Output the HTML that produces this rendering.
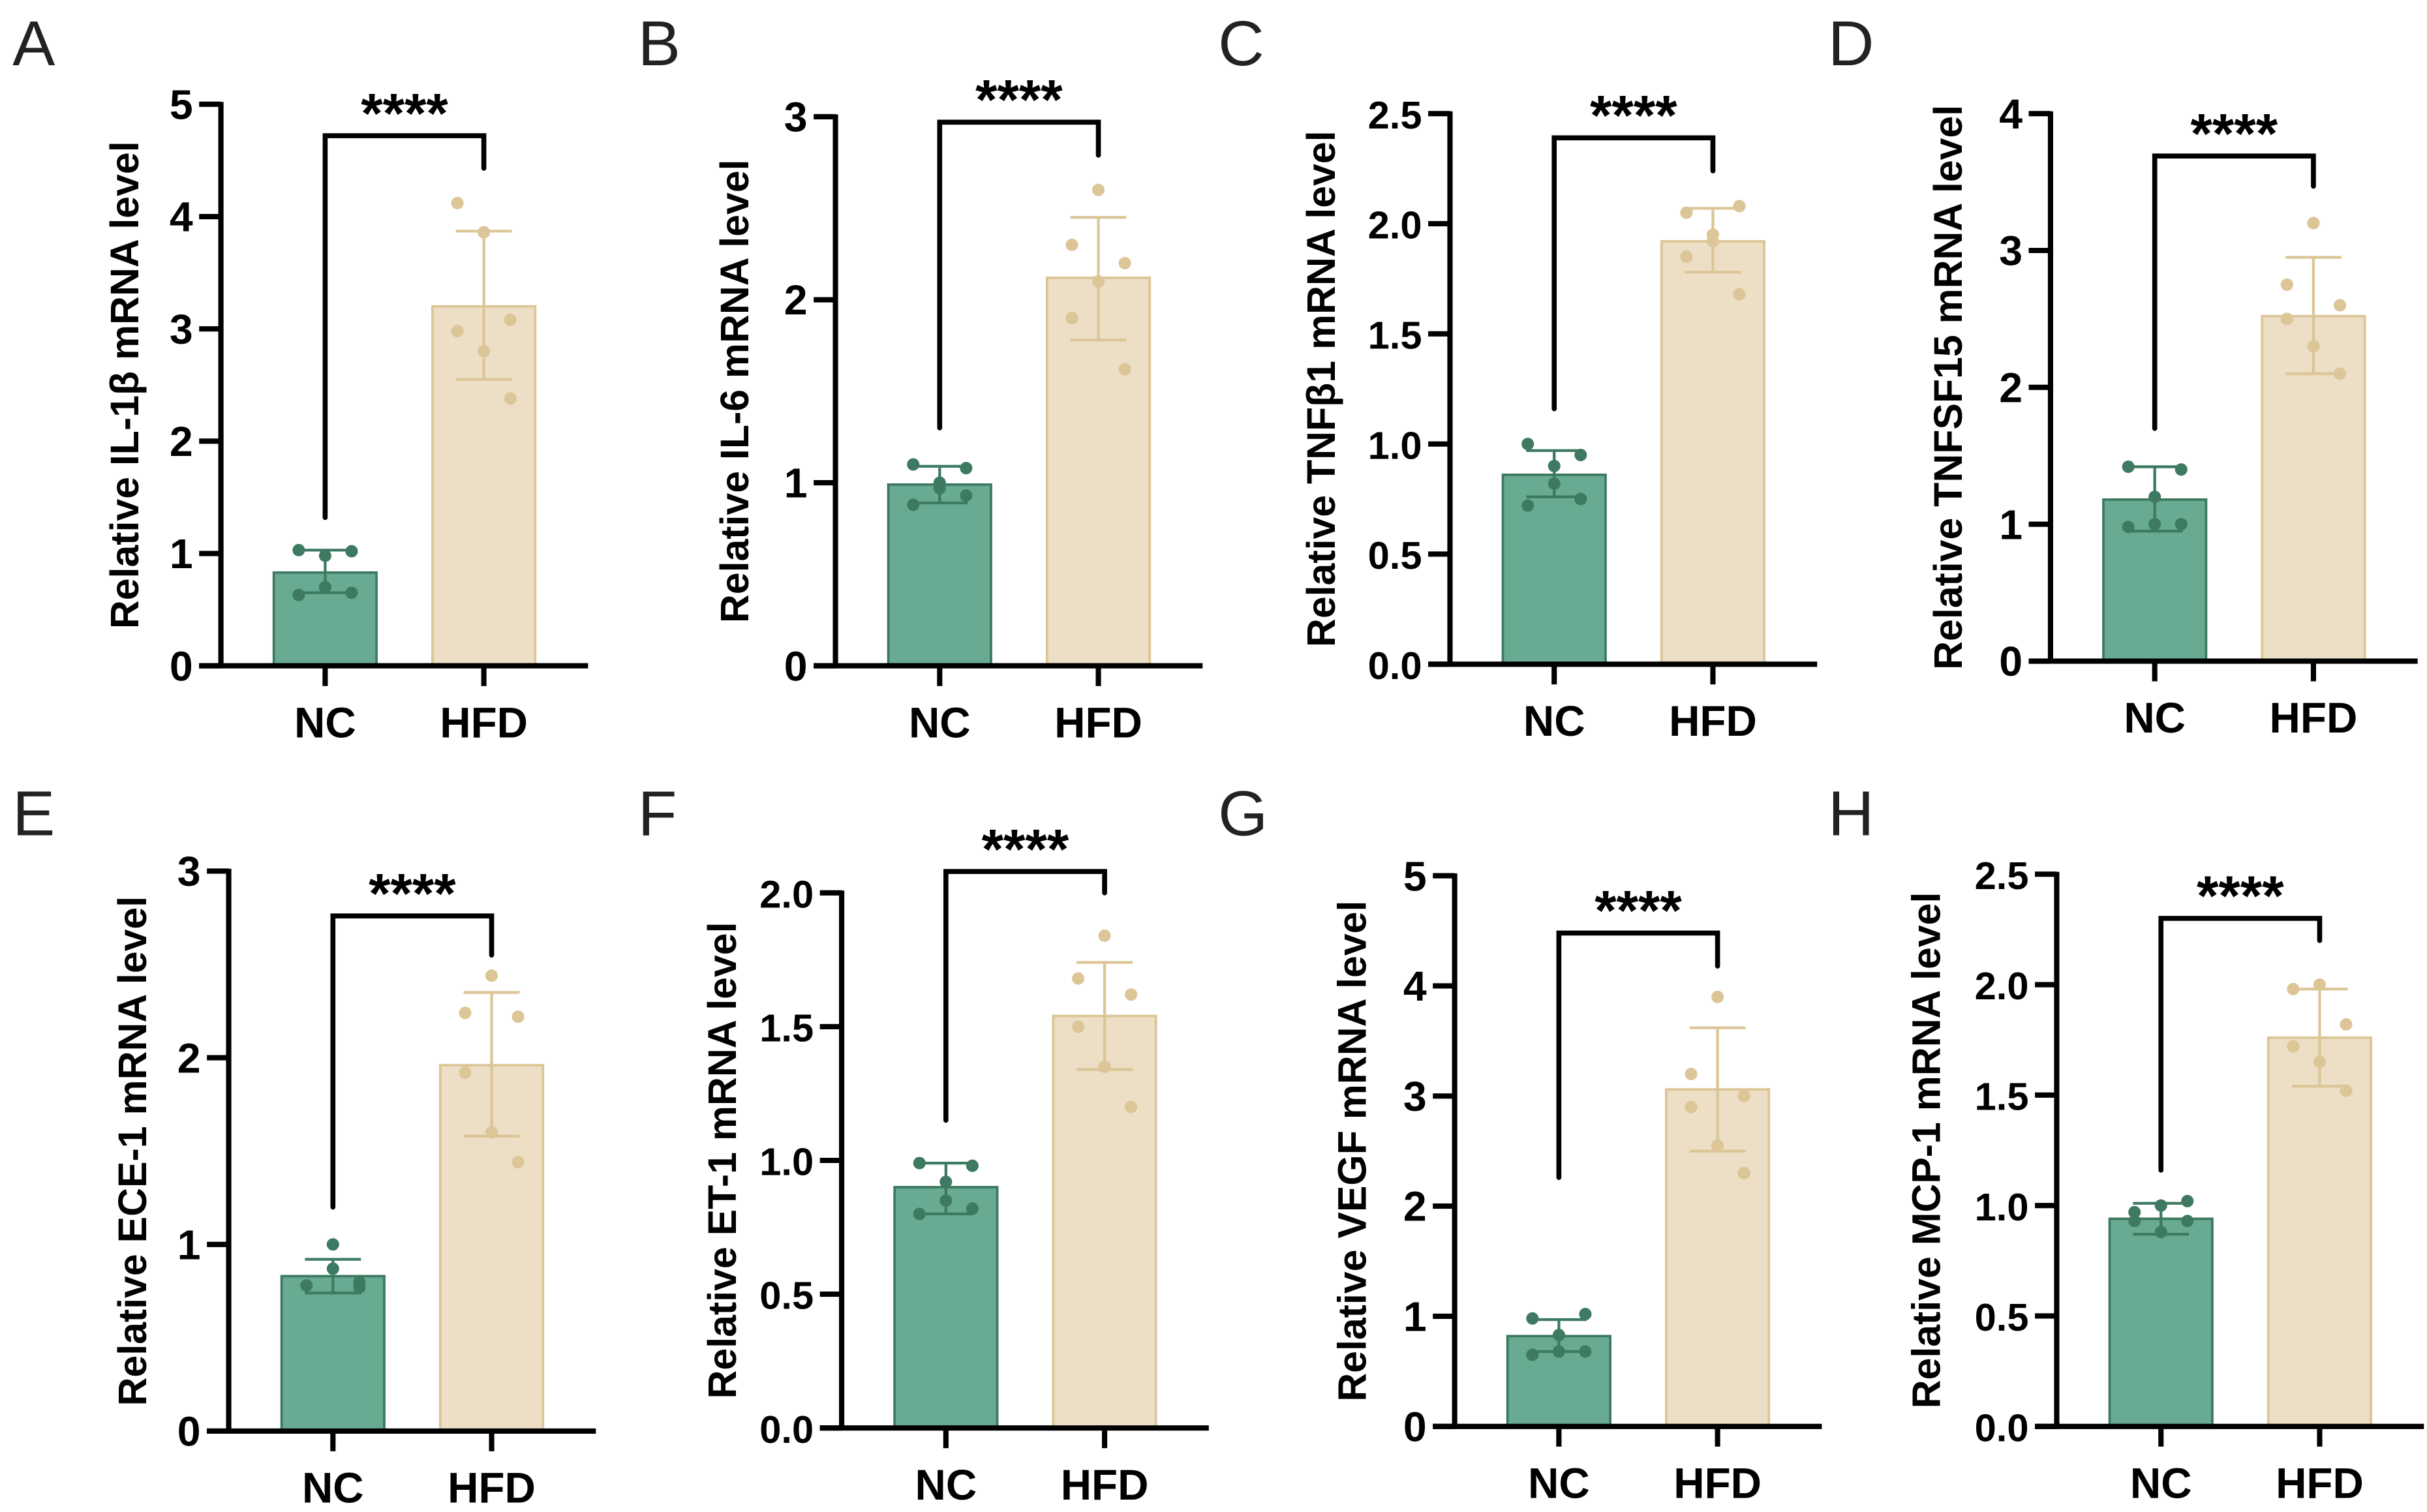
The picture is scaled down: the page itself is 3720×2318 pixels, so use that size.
<!DOCTYPE html>
<html><head><meta charset="utf-8"><style>
html,body{margin:0;padding:0;background:#fff;}
svg{display:block;}
text{font-family:"Liberation Sans",Arial,sans-serif;}
</style></head>
<body>
<svg id="fig" width="3720" height="2318" viewBox="0 0 1560 972" xmlns="http://www.w3.org/2000/svg"></svg>
<script>
// ---- data (top level) ----
const panelLetters = ["A","B","C","D","E","F","G","H"];
const yTitles = ["Relative IL-1β mRNA level","Relative IL-6 mRNA level","Relative TNFβ1 mRNA level","Relative TNFSF15 mRNA level","Relative ECE-1 mRNA level","Relative ET-1 mRNA level","Relative VEGF mRNA level","Relative MCP-1 mRNA level"];
const categories = ["NC","HFD"];
const yMax = [5,3,2.5,4,3,2,5,2.5];
const tickLabels = [["0","1","2","3","4","5"],["0","1","2","3"],["0.0","0.5","1.0","1.5","2.0","2.5"],["0","1","2","3","4"],["0","1","2","3"],["0.0","0.5","1.0","1.5","2.0"],["0","1","2","3","4","5"],["0.0","0.5","1.0","1.5","2.0","2.5"]];
const ncMean = [0.83,0.99,0.86,1.18,0.83,0.90,0.82,0.94];
const ncLow  = [0.65,0.89,0.76,0.95,0.74,0.80,0.68,0.87];
const ncHigh = [1.03,1.09,0.97,1.42,0.92,0.99,0.97,1.01];
const hfdMean = [3.20,2.12,1.92,2.52,1.96,1.54,3.06,1.76];
const hfdLow  = [2.55,1.78,1.78,2.10,1.58,1.34,2.50,1.54];
const hfdHigh = [3.87,2.45,2.07,2.95,2.35,1.74,3.62,1.98];
const ncPoints = [[1.03,0.98,1.02,0.63,0.70,0.65],[1.10,1.00,1.08,0.88,0.97,0.93],[1.00,0.90,0.95,0.72,0.82,0.75],[1.42,1.20,1.40,0.98,1.00,1.00],[0.78,0.87,0.77,0.78,1.00,0.80],[0.99,0.92,0.98,0.80,0.85,0.82],[0.98,0.83,1.02,0.65,0.68,0.68],[0.97,1.00,1.02,0.93,0.88,0.93]];
const hfdPoints = [[4.12,3.86,3.08,2.98,2.80,2.38],[2.30,2.60,2.20,1.90,2.10,1.62],[2.05,1.95,2.08,1.85,1.92,1.68],[2.75,3.20,2.60,2.50,2.30,2.10],[2.24,2.44,2.22,1.92,1.60,1.44],[1.68,1.84,1.62,1.50,1.35,1.20],[3.20,3.90,3.00,2.90,2.55,2.30],[1.98,2.00,1.82,1.72,1.65,1.52]];
const bracketY = [4.72,2.97,2.39,3.69,2.76,2.08,4.48,2.30];
const ncLegY = [1.32,1.30,1.16,1.70,1.20,1.15,2.26,1.16];
const hfdLegY = [4.43,2.79,2.24,3.47,2.55,2.00,4.18,2.20];

// ---- layout (style, not data) ----
const axisX = [142,537,932,1318,147,541,935,1322];
const topY = [67,75,73,73,560,574,563,562];
const zeroY = [428,428,427,425,920,918,917,917];
const titleOff = [53,56,74,57,53,68,57,75];
const letterXY = [[8,42],[410,42],[783,42],[1175,42],[8,537],[410,537],[783,537],[1175,537]];
const jitter = [-17,0,17,-17,0,17];

const NS = "http://www.w3.org/2000/svg";
const svg = document.getElementById("fig");
function mk(tag, attrs, parent){
  const e = document.createElementNS(NS, tag);
  for (const k in attrs) e.setAttribute(k, attrs[k]);
  (parent||svg).appendChild(e);
  return e;
}
const NCF="#69ab92", NCS="#3e7a62", HF="#ecdfc5", HS="#dcc597";

for (let p=0;p<8;p++){
  const g = mk("g",{});
  
  
  const ax = axisX[p], y0 = zeroY[p], yt = topY[p];
  const ys = v => y0 - (v/yMax[p])*(y0-yt);
  const cx = [ax+67, ax+169];
  const L = mk("text",{x:letterXY[p][0],y:letterXY[p][1],"font-size":41,fill:"#222"},g);
  L.textContent = panelLetters[p];
  
  
  const groups = [
    {m:ncMean[p],lo:ncLow[p],hi:ncHigh[p],pts:ncPoints[p],f:NCF,s:NCS,d:NCS,name:"nc"},
    {m:hfdMean[p],lo:hfdLow[p],hi:hfdHigh[p],pts:hfdPoints[p],f:HF,s:HS,d:HS,name:"hfd"}];
  groups.forEach((gr,i)=>{
    const b = mk("rect",{x:cx[i]-33,y:ys(gr.m),width:66,height:y0-ys(gr.m),fill:gr.f,stroke:gr.s,"stroke-width":1.6},g);
    
    
    const eb = mk("path",{d:`M${cx[i]} ${ys(gr.lo)}V${ys(gr.hi)}M${cx[i]-18} ${ys(gr.hi)}H${cx[i]+18}M${cx[i]-18} ${ys(gr.lo)}H${cx[i]+18}`,stroke:gr.s,"stroke-width":1.8,fill:"none"},g);
    
    
    gr.pts.forEach((v,k)=>{
      const c = mk("circle",{cx:cx[i]+jitter[k],cy:ys(v),r:4,fill:gr.d},g);
      
      
    });
  });
  const ya = mk("line",{x1:ax,y1:yt-1.5,x2:ax,y2:y0,stroke:"#000","stroke-width":3.4},g);
  
  
  const xa = mk("line",{x1:ax-14,y1:y0,x2:ax+236,y2:y0,stroke:"#000","stroke-width":3.4},g);
  
  
  tickLabels[p].forEach((t,k)=>{
    const v = k*yMax[p]/(tickLabels[p].length-1);
    const y = ys(v);
    mk("line",{x1:ax-14,y1:y,x2:ax,y2:y,stroke:"#000","stroke-width":3.4},g);
    const tx = mk("text",{x:ax-18,y:y+9.5,"font-size":t.length>1?25:27,"font-weight":"bold","text-anchor":"end"},g);
    tx.textContent = t;
    
    
  });
  categories.forEach((c,i)=>{
    mk("line",{x1:cx[i],y1:y0,x2:cx[i],y2:y0+13,stroke:"#000","stroke-width":3.4},g);
    const tx = mk("text",{x:cx[i],y:y0+46,"font-size":27.5,"font-weight":"bold","text-anchor":"middle"},g);
    tx.textContent = c;
    
    
  });
  const my = (y0+yt)/2;
  const yT = mk("text",{x:0,y:0,"font-size":25.5,"font-weight":"bold","text-anchor":"middle",transform:`translate(${ax-titleOff[p]},${my}) rotate(-90)`},g);
  yT.textContent = yTitles[p];
  
  
  const by = ys(bracketY[p]);
  const br = mk("path",{d:`M${cx[0]} ${ys(ncLegY[p])}V${by}H${cx[1]}V${ys(hfdLegY[p])}`,stroke:"#000","stroke-width":3.2,fill:"none","stroke-linecap":"round"},g);
  
  
  const st = mk("text",{x:(cx[0]+cx[1])/2,y:by-2,"font-size":36,"font-weight":"bold","text-anchor":"middle"},g);
  st.textContent = "****";
  
  
}
</script>
</body></html>
